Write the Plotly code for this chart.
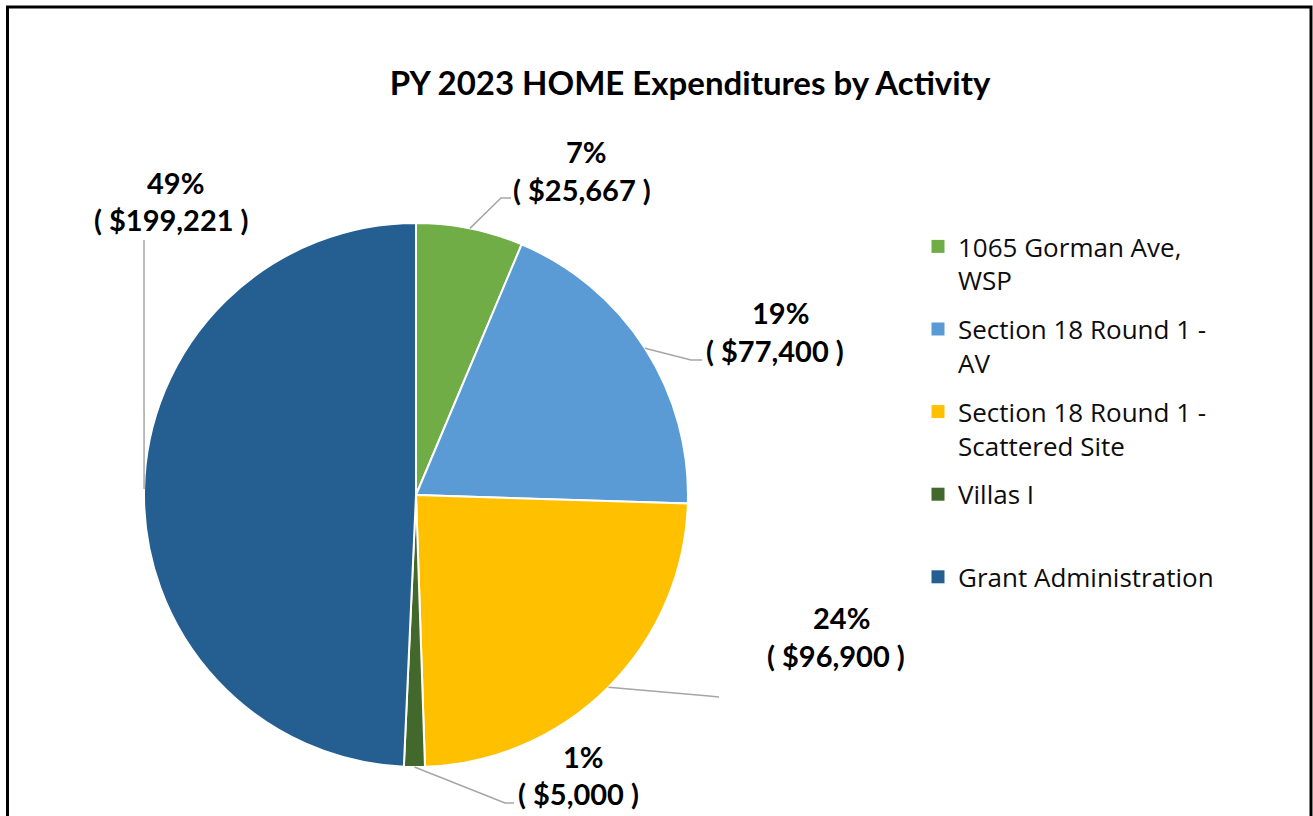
import math
import plotly.graph_objects as go

# ---- data ----
categories = ["1065 Gorman Ave,<br>WSP", "Section 18 Round 1 -<br>AV",
              "Section 18 Round 1 -<br>Scattered Site", "Villas I", "Grant Administration"]
values = [25667, 77400, 96900, 5000, 199221]
pct_labels = ["7%", "19%", "24%", "1%", "49%"]
value_labels = ["( $25,667 )", "( $77,400 )", "( $96,900 )", "( $5,000 )", "( $199,221 )"]
colors = ["#70AD47", "#5B9BD5", "#FFC000", "#43682B", "#255E91"]

W, H = 1313, 816
CX, CY, R = 416, 495, 272

# label layout (pixel positions of the label texts and leader elbows)
pct_pos = [(586, 151), (780, 312), (841, 617), (583, 756), (175, 182)]
val_pos = [(582, 189), (775, 350), (836, 655), (578, 793), (171, 220)]
elbows = [[(501, 198), (511, 198)],
          [(691, 360), (702, 360)],
          [(709, 696), (719, 697)],
          [(505, 803), (514, 803)],
          [(144, 240)]]

def px(x):
    return x / W

def py(y):
    return 1 - y / H

fig = go.Figure()
fig.add_trace(go.Pie(
    labels=categories, values=values, sort=False, direction="clockwise",
    rotation=0, textinfo="none", hoverinfo="label+value+percent",
    marker=dict(colors=colors, line=dict(color="white", width=2)),
    domain=dict(x=[px(CX - R), px(CX + R)], y=[py(CY + R), py(CY - R)]),
    showlegend=False,
))

# legend entries (one legend group each so spacing matches)
legend_names = list(categories)
legend_names[3] = "Villas I<br> "
for i, (name, col) in enumerate(zip(legend_names, colors)):
    fig.add_trace(go.Scatter(
        x=[None], y=[None], mode="markers", name=name, legendgroup=f"g{i}",
        marker=dict(symbol="square", size=13, color=col),
        hoverinfo="skip",
    ))

# leader lines, anchored at the middle of each slice on the pie edge
total = sum(values)
cum = 0
shapes = []
for i, v in enumerate(values):
    mid = (cum + v / 2) / total * 2 * math.pi
    cum += v
    ex = CX + R * math.sin(mid)
    ey = CY - R * math.cos(mid)
    pts = [(ex, ey)] + elbows[i]
    path = "M " + " L ".join(f"{px(a):.5f},{py(b):.5f}" for a, b in pts)
    shapes.append(dict(type="path", path=path, xref="paper", yref="paper",
                       line=dict(color="#A6A6A6", width=1.5)))

# chart border
shapes.append(dict(type="rect", xref="paper", yref="paper",
                   x0=px(7.5), x1=px(1311), y0=-0.05, y1=py(7),
                   line=dict(color="black", width=3), fillcolor="rgba(0,0,0,0)"))

annotations = []
for (x, y), t in zip(pct_pos, pct_labels):
    annotations.append(dict(x=px(x), y=py(y), xref="paper", yref="paper", text=f"<b>{t}</b>",
                            showarrow=False, xanchor="center", yanchor="middle",
                            font=dict(family="Lato", size=29, color="black")))
for (x, y), t in zip(val_pos, value_labels):
    annotations.append(dict(x=px(x), y=py(y), xref="paper", yref="paper", text=f"<b>{t}</b>",
                            showarrow=False, xanchor="center", yanchor="middle",
                            font=dict(family="Lato", size=29, color="black")))

fig.update_layout(
    width=W, height=H,
    margin=dict(l=0, r=0, t=0, b=0),
    paper_bgcolor="white", plot_bgcolor="white",
    title=dict(text="<b>PY 2023 HOME Expenditures by Activity</b>",
               x=690 / W, xanchor="center", y=py(83), yanchor="middle",
               yref="container", xref="container",
               font=dict(family="Lato", size=33, color="black")),
    xaxis=dict(visible=False), yaxis=dict(visible=False),
    legend=dict(x=px(918), y=py(223), xanchor="left", yanchor="top",
                valign="top", tracegroupgap=12, traceorder="grouped",
                font=dict(family="Open Sans", size=26, color="#0d0d0d"),
                bgcolor="rgba(0,0,0,0)"),
    shapes=shapes, annotations=annotations,
)

fig.write_html("out.html", config={"displayModeBar": False},
               post_script="document.body.style.margin='0';document.body.style.overflow='hidden';")
